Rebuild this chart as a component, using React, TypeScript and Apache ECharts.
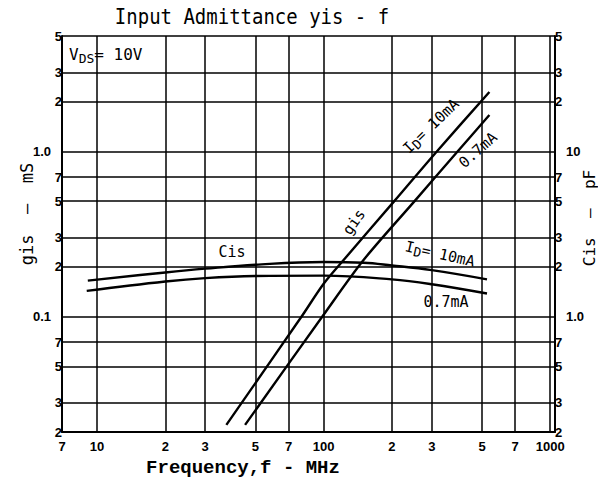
import React, { useEffect, useRef } from 'react';
import * as echarts from 'echarts';

// Tick values (grid lines) for each log axis
const freqTicks = [7, 10, 20, 30, 50, 70, 100, 200, 300, 500, 700, 1000];
const gisTicks = [0.02, 0.03, 0.05, 0.07, 0.1, 0.2, 0.3, 0.5, 0.7, 1, 2, 3, 5];
const cisTicks = [0.2, 0.3, 0.5, 0.7, 1, 2, 3, 5, 7, 10, 20, 30, 50];

// gis (mS) vs frequency (MHz)
const gis10mA = [[37.2, 0.0221], [79.5, 0.099], [100, 0.158], [122.5, 0.22], [205, 0.5], [311, 0.976], [539, 2.29]];
const gis07mA = [[45, 0.0221], [98.7, 0.1], [150, 0.22], [252, 0.5], [390, 1.0], [539, 1.66]];

// Cis (pF) vs frequency (MHz)
const cis10mA = [[9.1, 1.65], [20, 1.85], [30, 1.95], [50, 2.06], [100, 2.14], [150, 2.12], [200, 2.04], [300, 1.91], [526, 1.68]];
const cis07mA = [[9, 1.43], [20, 1.63], [30, 1.71], [50, 1.76], [100, 1.77], [200, 1.68], [300, 1.57], [526, 1.38]];

const digit = (v: number) => String(Math.round(v / Math.pow(10, Math.floor(Math.log10(v) + 1e-9))));

const LABEL_FONT = { fontFamily: 'Liberation Sans', fontWeight: 'bold' as const, fontSize: 13, color: '#000' };
const MONO = 'DejaVu Sans Mono';

export default function App() {
  const ref = useRef<HTMLDivElement>(null);
  useEffect(() => {
    if (!ref.current) return;
    const chart = echarts.init(ref.current, undefined, { renderer: 'svg' });
    const lineStyle = { color: '#000', width: 2.4 };
    const split = { show: true, lineStyle: { color: '#000', width: 1.5 } };
    const axisLine = { show: true, lineStyle: { color: '#000', width: 2 } };
    chart.setOption({
      animation: false,
      backgroundColor: '#fff',
      grid: { left: 62, top: 36, right: 43, bottom: 52 },
      xAxis: {
        type: 'log',
        min: 7,
        max: 1050,
        axisLine,
        axisTick: { show: false, customValues: freqTicks },
        splitLine: split,
        axisLabel: {
          ...LABEL_FONT,
          margin: 8,
          customValues: freqTicks,
          formatter: (v: number) => (v === 10 || v === 100 || v === 1000 ? String(Math.round(v)) : digit(v)),
        },
      },
      yAxis: [
        {
          type: 'log',
          min: 0.02,
          max: 5,
          position: 'left',
          axisLine,
          axisTick: { show: false, customValues: gisTicks },
          splitLine: split,
          axisLabel: {
            ...LABEL_FONT,
            margin: 0,
            customValues: gisTicks,
            formatter: (v: number) => (Math.abs(v - 1) < 1e-9 ? '{d|1.0}' : Math.abs(v - 0.1) < 1e-9 ? '{d|0.1}' : digit(v)),
            rich: { d: { ...LABEL_FONT, padding: [0, 11, 0, 0] } },
          },
        },
        {
          type: 'log',
          min: 0.2,
          max: 50,
          position: 'right',
          axisLine,
          axisTick: { show: false, customValues: cisTicks },
          splitLine: { show: false },
          axisLabel: {
            ...LABEL_FONT,
            margin: 0,
            customValues: cisTicks,
            formatter: (v: number) => (Math.abs(v - 10) < 1e-9 ? '{d|10}' : Math.abs(v - 1) < 1e-9 ? '{d|1.0}' : digit(v)),
            rich: { d: { ...LABEL_FONT, padding: [0, 0, 0, 11] } },
          },
        },
      ],
      series: [
        { type: 'line', name: 'gis 10mA', yAxisIndex: 0, data: gis10mA, showSymbol: false, smooth: 0.3, lineStyle, silent: true },
        { type: 'line', name: 'gis 0.7mA', yAxisIndex: 0, data: gis07mA, showSymbol: false, smooth: 0.3, lineStyle, silent: true },
        { type: 'line', name: 'Cis 10mA', yAxisIndex: 1, data: cis10mA, showSymbol: false, smooth: 0.4, lineStyle, silent: true },
        { type: 'line', name: 'Cis 0.7mA', yAxisIndex: 1, data: cis07mA, showSymbol: false, smooth: 0.4, lineStyle, silent: true },
      ],
      graphic: [
        {
          type: 'text', x: 252, y: 17, scaleY: 1.12,
          style: { text: 'Input Admittance yis - f', font: `19px "${MONO}"`, fill: '#000', align: 'center', verticalAlign: 'middle' },
        },
        {
          type: 'text', x: 243, y: 468,
          style: { text: 'Frequency,f - MHz', font: 'bold 19px "Liberation Mono"', fill: '#000', align: 'center', verticalAlign: 'middle' },
        },
        {
          type: 'text', x: 27, y: 214, rotation: Math.PI / 2,
          style: { text: 'gis  —  mS', font: `17px "${MONO}"`, fill: '#000', align: 'center', verticalAlign: 'middle' },
        },
        {
          type: 'text', x: 589, y: 218, rotation: Math.PI / 2,
          style: { text: 'Cis  —  pF', font: `16px "${MONO}"`, fill: '#000', align: 'center', verticalAlign: 'middle' },
        },
        {
          type: 'text', x: 69, y: 54,
          style: {
            text: '{a|V}{s|DS}{a|= 10V}',
            fill: '#000', align: 'left', verticalAlign: 'middle',
            rich: {
              a: { fontFamily: MONO, fontSize: 16, fill: '#000' },
              s: { fontFamily: MONO, fontSize: 13, fill: '#000', padding: [8, 0, 0, 0] },
            },
          },
        },
        {
          type: 'text', x: 232, y: 252,
          style: { text: 'Cis', font: `15px "${MONO}"`, fill: '#000', align: 'center', verticalAlign: 'middle' },
        },
        {
          type: 'text', x: 354, y: 222, rotation: (55 * Math.PI) / 180,
          style: { text: 'gis', font: `15px "${MONO}"`, fill: '#000', align: 'center', verticalAlign: 'middle' },
        },
        {
          type: 'text', x: 431, y: 126, rotation: (44 * Math.PI) / 180,
          style: {
            text: '{a|I}{s|D}{a|= 10mA}', align: 'center', verticalAlign: 'middle',
            rich: {
              a: { fontFamily: MONO, fontSize: 15, fill: '#000' },
              s: { fontFamily: MONO, fontSize: 13, fill: '#000', padding: [7, 0, 0, 0] },
            },
          },
        },
        {
          type: 'text', x: 478, y: 150, rotation: (42 * Math.PI) / 180,
          style: { text: '0.7mA', font: `15px "${MONO}"`, fill: '#000', align: 'center', verticalAlign: 'middle' },
        },
        {
          type: 'text', x: 440, y: 254, rotation: (-13 * Math.PI) / 180,
          style: {
            text: '{a|I}{s|D}{a|= 10mA}', align: 'center', verticalAlign: 'middle',
            rich: {
              a: { fontFamily: MONO, fontSize: 15, fill: '#000' },
              s: { fontFamily: MONO, fontSize: 13, fill: '#000', padding: [7, 0, 0, 0] },
            },
          },
        },
        {
          type: 'text', x: 446, y: 302,
          style: { text: '0.7mA', font: `15px "${MONO}"`, fill: '#000', align: 'center', verticalAlign: 'middle' },
        },
      ],
    });
    return () => chart.dispose();
  }, []);
  return (
    <div
      ref={ref}
      style={{ position: 'absolute', left: 0, top: 0, width: 598, height: 484, background: '#fff' }}
    />
  );
}
